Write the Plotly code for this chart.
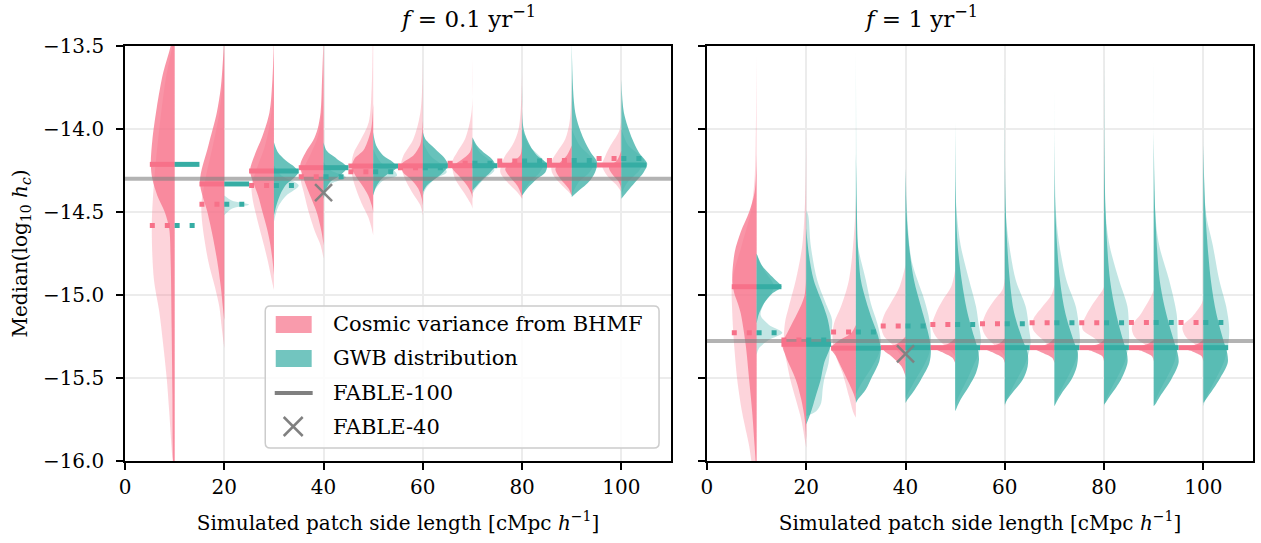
import plotly.graph_objects as go

# ---------------- data ----------------
POSITIONS = [10, 20, 30, 40, 50, 60, 70, 80, 90, 100]
XTICKS = [0, 20, 40, 60, 80, 100]
YTICKS = [-16.0, -15.5, -15.0, -14.5, -14.0, -13.5]
PANEL_TITLES = ["<i>f</i> = 0.1 yr<sup>−1</sup>", "<i>f</i> = 1 yr<sup>−1</sup>"]
LEGEND_LABELS = ["Cosmic variance from BHMF", "GWB distribution", "FABLE-100", "FABLE-40"]

# medians (solid = main distribution, dotted = alternative distribution)
MED_MAIN_F01 = [-14.213, -14.331, -14.253, -14.233, -14.223, -14.222, -14.221, -14.218, -14.218, -14.217]
MED_ALT_F01 = [-14.582, -14.454, -14.341, -14.287, -14.257, -14.233, -14.207, -14.193, -14.190, -14.177]
MED_MAIN_F1 = [-14.950, -15.297, -15.320, -15.317, -15.317, -15.317, -15.317, -15.317, -15.317, -15.317]
MED_ALT_F1 = [-15.227, -15.271, -15.223, -15.187, -15.177, -15.173, -15.167, -15.167, -15.165, -15.165]

FABLE100 = [-14.300, -15.277]
FABLE40_X = 40
FABLE40 = [-14.384, -15.355]

# half-violin outlines: (log10 hc, half width in x units)
BHMF_MAIN_F01 = {
    10: [(-13.35, 0), (-13.5, 0.8), (-13.66, 2.3), (-13.87, 3.6), (-14.07, 4.5), (-14.21, 4.8), (-14.3, 4.5), (-14.4, 3.5), (-14.5, 2.0), (-14.6, 1.1), (-14.8, 0.8), (-15.2, 0.6), (-15.6, 0.45), (-16.0, 0.3), (-16.1, 0)],
    20: [(-13.45, 0), (-13.6, 0.3), (-13.75, 0.7), (-13.9, 1.5), (-14.1, 3.2), (-14.32, 4.9), (-14.5, 3.4), (-14.65, 2.3), (-14.8, 1.4), (-14.95, 0.7), (-15.07, 0.3), (-15.15, 0)],
    30: [(-13.45, 0), (-13.7, 0.3), (-13.9, 0.9), (-14.05, 2.4), (-14.15, 3.8), (-14.25, 4.8), (-14.32, 4.2), (-14.4, 3.2), (-14.5, 2.3), (-14.6, 1.4), (-14.7, 0.7), (-14.8, 0.25), (-14.88, 0)],
    40: [(-13.45, 0), (-13.7, 0.3), (-13.9, 0.6), (-14.0, 1.2), (-14.07, 2.1), (-14.14, 3.6), (-14.22, 4.7), (-14.3, 4.0), (-14.38, 3.0), (-14.5, 1.4), (-14.62, 0.4), (-14.7, 0)],
    50: [(-13.85, 0), (-14.0, 0.4), (-14.08, 1.2), (-14.13, 2.0), (-14.18, 3.8), (-14.23, 4.3), (-14.28, 3.6), (-14.34, 2.2), (-14.4, 1.0), (-14.46, 0.3), (-14.5, 0)],
    60: [(-13.95, 0), (-14.06, 0.3), (-14.1, 0.6), (-14.16, 1.9), (-14.21, 4.2), (-14.26, 4.0), (-14.3, 2.5), (-14.36, 0.9), (-14.42, 0.2), (-14.46, 0)],
    70: [(-14.05, 0), (-14.14, 0.5), (-14.19, 2.4), (-14.23, 4.1), (-14.28, 2.8), (-14.34, 1.1), (-14.39, 0.2), (-14.42, 0)],
    80: [(-14.1, 0), (-14.16, 0.4), (-14.2, 2.0), (-14.24, 3.4), (-14.28, 2.7), (-14.34, 1.0), (-14.39, 0.2), (-14.42, 0)],
    90: [(-14.1, 0), (-14.16, 1.0), (-14.2, 2.3), (-14.24, 3.3), (-14.3, 2.3), (-14.36, 0.6), (-14.4, 0)],
    100: [(-14.13, 0), (-14.19, 0.9), (-14.23, 2.5), (-14.27, 1.9), (-14.32, 0.5), (-14.36, 0)],
}
BHMF_ALT_F01 = {
    10: [(-13.35, 0), (-13.5, 0.5), (-13.7, 1.8), (-14.0, 3.1), (-14.3, 4.1), (-14.58, 4.6), (-14.9, 4.2), (-15.1, 3.1), (-15.3, 2.3), (-15.5, 1.6), (-15.7, 1.1), (-16.0, 0.4), (-16.1, 0)],
    20: [(-13.5, 0), (-13.7, 0.3), (-13.9, 1.0), (-14.1, 2.3), (-14.3, 3.8), (-14.45, 4.6), (-14.55, 4.5), (-14.8, 3.2), (-14.95, 1.9), (-15.07, 1.0), (-15.2, 0.5), (-15.32, 0)],
    30: [(-13.55, 0), (-13.9, 0.5), (-14.1, 1.8), (-14.25, 3.6), (-14.34, 4.5), (-14.42, 4.3), (-14.54, 3.4), (-14.7, 2.0), (-14.8, 1.2), (-14.9, 0.5), (-14.97, 0)],
    40: [(-13.55, 0), (-13.9, 0.4), (-14.05, 1.2), (-14.15, 2.6), (-14.25, 4.2), (-14.3, 4.6), (-14.38, 4.0), (-14.5, 3.0), (-14.62, 1.7), (-14.7, 0.6), (-14.78, 0)],
    50: [(-13.4, 0), (-13.5, 0.1), (-13.75, 0.3), (-13.96, 0.9), (-14.07, 2.6), (-14.15, 4.0), (-14.25, 4.4), (-14.35, 3.6), (-14.45, 2.3), (-14.53, 1.0), (-14.6, 0.3), (-14.64, 0)],
    60: [(-13.58, 0), (-13.9, 0.5), (-14.06, 1.9), (-14.16, 3.9), (-14.22, 4.4), (-14.3, 3.6), (-14.38, 2.2), (-14.46, 0.5), (-14.52, 0)],
    70: [(-13.58, 0), (-13.9, 0.2), (-14.06, 1.5), (-14.14, 3.1), (-14.2, 4.1), (-14.3, 3.5), (-14.38, 1.8), (-14.46, 0.2), (-14.48, 0)],
    80: [(-13.66, 0), (-14.0, 0.7), (-14.1, 2.0), (-14.16, 3.4), (-14.2, 4.0), (-14.26, 4.4), (-14.32, 3.0), (-14.38, 1.0), (-14.42, 0)],
    90: [(-13.66, 0), (-13.95, 0.4), (-14.06, 1.3), (-14.14, 3.0), (-14.19, 4.0), (-14.26, 4.0), (-14.32, 2.6), (-14.38, 0.6), (-14.4, 0)],
    100: [(-13.8, 0), (-14.0, 0.3), (-14.1, 2.2), (-14.16, 3.2), (-14.22, 3.9), (-14.28, 2.9), (-14.34, 0.9), (-14.38, 0)],
}
GWB_MAIN_F01 = {
    10: [],
    20: [],
    30: [(-14.08, 0), (-14.14, 0.8), (-14.19, 2.4), (-14.23, 4.2), (-14.26, 4.9), (-14.29, 4.2), (-14.33, 2.6), (-14.38, 1.5), (-14.45, 0.6), (-14.52, 0)],
    40: [(-14.08, 0), (-14.13, 0.6), (-14.18, 2.7), (-14.23, 4.7), (-14.28, 3.3), (-14.32, 1.3), (-14.38, 0.3), (-14.42, 0)],
    50: [(-14.02, 0), (-14.1, 0.6), (-14.16, 2.0), (-14.2, 4.0), (-14.23, 4.8), (-14.27, 3.0), (-14.31, 1.4), (-14.36, 0.4), (-14.4, 0)],
    60: [(-14.02, 0), (-14.06, 0.5), (-14.12, 2.5), (-14.18, 4.5), (-14.22, 5.1), (-14.26, 4.1), (-14.3, 2.5), (-14.34, 0.8), (-14.38, 0)],
    70: [(-14.05, 0), (-14.1, 0.9), (-14.14, 2.2), (-14.18, 3.9), (-14.22, 4.6), (-14.26, 3.6), (-14.3, 2.2), (-14.34, 0.9), (-14.37, 0)],
    80: [(-13.74, 0), (-14.0, 0.3), (-14.1, 1.6), (-14.16, 3.0), (-14.21, 5.0), (-14.26, 4.7), (-14.3, 3.0), (-14.36, 1.0), (-14.4, 0)],
    90: [(-13.45, 0), (-13.9, 0.7), (-14.06, 2.4), (-14.14, 3.8), (-14.2, 5.1), (-14.26, 4.7), (-14.32, 3.4), (-14.38, 1.1), (-14.41, 0)],
    100: [(-13.7, 0), (-13.9, 0.5), (-14.06, 2.2), (-14.14, 3.5), (-14.21, 5.2), (-14.26, 4.5), (-14.32, 2.8), (-14.38, 1.1), (-14.42, 0)],
}
GWB_ALT_F01 = {
    10: [],
    20: [(-14.40, 0), (-14.43, 1.5), (-14.455, 5.0), (-14.48, 1.5), (-14.52, 0)],
    30: [(-14.22, 0), (-14.28, 1.5), (-14.34, 5.0), (-14.40, 2.5), (-14.46, 1.0), (-14.52, 0.3), (-14.56, 0)],
    40: [(-14.2, 0), (-14.25, 1.5), (-14.29, 4.5), (-14.33, 1.5), (-14.38, 0.5), (-14.42, 0)],
    50: [(-14.12, 0), (-14.2, 1.5), (-14.25, 4.2), (-14.28, 4.8), (-14.31, 2.0), (-14.36, 0.5), (-14.4, 0)],
    60: [(-14.08, 0), (-14.16, 1.5), (-14.22, 4.0), (-14.26, 4.8), (-14.3, 2.5), (-14.36, 0.6), (-14.4, 0)],
    70: [(-14.06, 0), (-14.14, 1.5), (-14.2, 3.8), (-14.25, 4.4), (-14.3, 2.4), (-14.36, 0.6), (-14.39, 0)],
    80: [(-14.0, 0), (-14.1, 1.4), (-14.16, 3.4), (-14.2, 4.5), (-14.26, 3.6), (-14.32, 1.6), (-14.38, 0.3), (-14.4, 0)],
    90: [(-14.0, 0), (-14.1, 1.6), (-14.16, 3.6), (-14.2, 4.6), (-14.26, 3.6), (-14.32, 1.4), (-14.38, 0.3), (-14.4, 0)],
    100: [(-14.0, 0), (-14.1, 1.4), (-14.15, 3.4), (-14.19, 4.6), (-14.25, 3.6), (-14.32, 1.3), (-14.37, 0.3), (-14.4, 0)],
}
BHMF_MAIN_F1 = {
    10: [(-14.15, 0), (-14.38, 0.4), (-14.5, 1.5), (-14.62, 3.2), (-14.74, 4.4), (-14.91, 4.9), (-14.99, 4.5), (-15.05, 3.8), (-15.11, 3.2), (-15.3, 2.2), (-15.51, 1.5), (-15.7, 0.9), (-15.91, 0.4), (-16.1, 0)],
    20: [(-14.9, 0), (-15.01, 0.4), (-15.11, 1.8), (-15.21, 3.5), (-15.3, 4.8), (-15.37, 4.1), (-15.51, 2.1), (-15.63, 1.0), (-15.75, 0.3), (-15.87, 0)],
    30: [(-15.18, 0), (-15.23, 1.0), (-15.28, 3.7), (-15.32, 5.0), (-15.37, 4.0), (-15.45, 2.7), (-15.53, 1.4), (-15.6, 0.4), (-15.64, 0)],
    40: [(-15.25, 0), (-15.28, 1.0), (-15.31, 2.8), (-15.33, 4.4), (-15.37, 2.8), (-15.43, 0.8), (-15.49, 0)],
    50: [(-15.26, 0), (-15.29, 1.2), (-15.31, 3.0), (-15.32, 4.3), (-15.35, 2.3), (-15.38, 0.5), (-15.41, 0)],
    60: [(-15.26, 0), (-15.29, 1.0), (-15.31, 3.0), (-15.32, 4.3), (-15.35, 2.2), (-15.38, 0.4), (-15.41, 0)],
    70: [(-15.26, 0), (-15.29, 1.1), (-15.31, 3.0), (-15.32, 4.3), (-15.35, 2.3), (-15.38, 0.4), (-15.41, 0)],
    80: [(-15.27, 0), (-15.29, 0.8), (-15.31, 3.0), (-15.32, 4.3), (-15.34, 2.3), (-15.37, 0.3), (-15.4, 0)],
    90: [(-15.27, 0), (-15.29, 0.9), (-15.31, 3.0), (-15.32, 4.2), (-15.34, 2.2), (-15.37, 0.3), (-15.4, 0)],
    100: [(-15.27, 0), (-15.29, 0.9), (-15.31, 2.9), (-15.32, 4.2), (-15.34, 2.2), (-15.37, 0.3), (-15.4, 0)],
}
BHMF_ALT_F1 = {
    10: [(-13.56, 0), (-14.0, 0.15), (-14.3, 0.4), (-14.5, 1.2), (-14.7, 3.0), (-14.91, 4.9), (-15.11, 4.9), (-15.31, 4.5), (-15.51, 3.9), (-15.71, 2.9), (-15.91, 1.5), (-16.1, 0.6), (-16.2, 0)],
    20: [(-14.0, 0), (-14.4, 0.2), (-14.7, 0.8), (-14.91, 2.1), (-15.07, 3.5), (-15.17, 4.3), (-15.31, 4.5), (-15.41, 3.9), (-15.51, 3.2), (-15.63, 2.1), (-15.75, 1.0), (-15.87, 0.3), (-15.92, 0)],
    30: [(-14.4, 0), (-14.6, 0.3), (-14.91, 1.4), (-15.07, 3.0), (-15.17, 4.4), (-15.27, 4.7), (-15.37, 4.0), (-15.47, 2.7), (-15.61, 1.4), (-15.71, 0.5), (-15.74, 0)],
    40: [(-14.82, 0), (-14.95, 1.2), (-15.05, 3.0), (-15.12, 4.3), (-15.19, 4.9), (-15.25, 4.3), (-15.3, 2.6), (-15.36, 1.0), (-15.4, 0)],
    50: [(-14.85, 0), (-14.95, 0.8), (-15.03, 2.5), (-15.11, 3.9), (-15.19, 4.7), (-15.25, 3.9), (-15.31, 1.9), (-15.35, 0.5), (-15.37, 0)],
    60: [(-14.9, 0), (-14.97, 0.5), (-15.03, 2.1), (-15.11, 3.8), (-15.19, 4.6), (-15.25, 3.8), (-15.31, 1.8), (-15.35, 0.5), (-15.37, 0)],
    70: [(-14.94, 0), (-15.0, 0.6), (-15.07, 2.4), (-15.15, 4.3), (-15.21, 4.3), (-15.27, 2.4), (-15.32, 0.7), (-15.35, 0)],
    80: [(-14.95, 0), (-14.97, 0.3), (-15.07, 2.6), (-15.17, 4.3), (-15.21, 4.3), (-15.27, 1.6), (-15.31, 0.6), (-15.33, 0)],
    90: [(-14.97, 0), (-15.0, 0.4), (-15.11, 2.5), (-15.19, 4.4), (-15.25, 3.9), (-15.31, 1.2), (-15.34, 0)],
    100: [(-15.02, 0), (-15.05, 0.3), (-15.13, 2.2), (-15.19, 4.2), (-15.25, 3.6), (-15.31, 1.1), (-15.34, 0)],
}
GWB_MAIN_F1 = {
    10: [(-14.75, 0), (-14.82, 1.0), (-14.87, 2.5), (-14.91, 3.8), (-14.95, 5.0), (-14.99, 3.2), (-15.05, 1.5), (-15.11, 0.5), (-15.17, 0)],
    20: [(-14.6, 0), (-14.75, 0.5), (-14.91, 1.5), (-15.07, 3.5), (-15.17, 4.5), (-15.3, 4.9), (-15.41, 3.6), (-15.51, 2.9), (-15.61, 1.9), (-15.71, 0.9), (-15.78, 0)],
    30: [(-14.15, 0), (-14.5, 0.2), (-14.7, 0.4), (-14.91, 1.0), (-15.03, 2.0), (-15.15, 3.3), (-15.23, 4.3), (-15.32, 5.0), (-15.4, 4.7), (-15.49, 3.3), (-15.57, 2.0), (-15.63, 0.4), (-15.65, 0)],
    40: [(-14.24, 0), (-14.5, 0.2), (-14.7, 0.7), (-14.91, 1.7), (-15.07, 3.1), (-15.21, 4.4), (-15.32, 5.1), (-15.41, 4.8), (-15.51, 3.1), (-15.59, 1.4), (-15.63, 0.4), (-15.65, 0)],
    50: [(-13.96, 0), (-14.5, 0.2), (-14.7, 0.5), (-14.91, 1.3), (-15.11, 2.5), (-15.25, 3.8), (-15.32, 4.5), (-15.39, 4.8), (-15.47, 4.2), (-15.55, 2.8), (-15.63, 1.1), (-15.68, 0.3), (-15.7, 0)],
    60: [(-13.66, 0), (-14.5, 0.2), (-14.91, 1.0), (-15.11, 1.9), (-15.27, 3.6), (-15.35, 4.6), (-15.43, 4.6), (-15.51, 3.6), (-15.59, 1.5), (-15.63, 0.5), (-15.66, 0)],
    70: [(-13.76, 0), (-14.5, 0.2), (-14.91, 1.1), (-15.11, 2.2), (-15.27, 3.8), (-15.35, 4.7), (-15.43, 4.5), (-15.51, 3.4), (-15.59, 1.5), (-15.64, 0.5), (-15.67, 0)],
    80: [(-13.54, 0), (-14.5, 0.3), (-14.91, 1.2), (-15.11, 2.4), (-15.27, 3.8), (-15.35, 4.6), (-15.41, 4.7), (-15.51, 3.4), (-15.6, 1.4), (-15.64, 0.5), (-15.66, 0)],
    90: [(-14.0, 0), (-14.5, 0.3), (-14.91, 1.2), (-15.11, 2.5), (-15.27, 4.0), (-15.35, 4.8), (-15.41, 5.0), (-15.51, 3.5), (-15.6, 1.5), (-15.65, 0.5), (-15.67, 0)],
    100: [(-14.1, 0), (-14.5, 0.4), (-14.91, 1.5), (-15.11, 2.6), (-15.27, 4.0), (-15.35, 4.8), (-15.41, 4.9), (-15.51, 3.2), (-15.6, 1.2), (-15.63, 0.5), (-15.65, 0)],
}
GWB_ALT_F1 = {
    10: [(-14.75, 0), (-14.85, 1.5), (-14.95, 3.5), (-15.05, 1.5), (-15.12, 0.8), (-15.18, 2.5), (-15.227, 5.2), (-15.27, 2.5), (-15.32, 0.5), (-15.36, 0)],
    20: [(-14.49, 0), (-14.52, 0.4), (-14.7, 0.9), (-14.91, 2.2), (-15.07, 4.2), (-15.15, 5.2), (-15.27, 4.9), (-15.41, 4.5), (-15.51, 3.6), (-15.57, 3.3), (-15.65, 3.0), (-15.7, 2.0), (-15.73, 0)],
    30: [(-13.52, 0), (-14.5, 0.2), (-14.7, 0.4), (-14.91, 2.0), (-15.05, 3.0), (-15.17, 4.3), (-15.27, 5.0), (-15.35, 4.7), (-15.43, 3.3), (-15.5, 1.8), (-15.56, 0.6), (-15.6, 0)],
    40: [(-14.24, 0), (-14.6, 0.5), (-14.79, 1.2), (-14.91, 2.4), (-15.03, 3.8), (-15.15, 4.8), (-15.27, 5.1), (-15.35, 4.8), (-15.43, 3.6), (-15.5, 2.2), (-15.57, 0.9), (-15.62, 0)],
    50: [(-14.3, 0), (-14.5, 0.3), (-14.7, 1.1), (-14.91, 2.8), (-15.07, 4.2), (-15.17, 4.7), (-15.27, 5.2), (-15.35, 4.8), (-15.43, 3.6), (-15.51, 2.4), (-15.58, 1.2), (-15.64, 0.3), (-15.67, 0)],
    60: [(-13.66, 0), (-14.5, 0.2), (-14.7, 0.9), (-14.91, 2.2), (-15.07, 4.2), (-15.21, 4.9), (-15.29, 5.2), (-15.4, 4.3), (-15.5, 2.6), (-15.58, 1.2), (-15.64, 0.3), (-15.67, 0)],
    70: [(-13.76, 0), (-14.5, 0.3), (-14.7, 1.0), (-14.91, 2.4), (-15.07, 4.3), (-15.21, 5.0), (-15.29, 5.1), (-15.4, 4.2), (-15.5, 2.6), (-15.58, 1.2), (-15.64, 0.3), (-15.67, 0)],
    80: [(-13.54, 0), (-14.5, 0.3), (-14.7, 1.1), (-14.91, 3.0), (-15.07, 4.7), (-15.21, 5.0), (-15.29, 5.0), (-15.4, 4.2), (-15.5, 2.6), (-15.58, 1.2), (-15.64, 0.3), (-15.67, 0)],
    90: [(-13.58, 0), (-14.5, 0.3), (-14.7, 1.1), (-14.91, 3.1), (-15.11, 4.6), (-15.23, 4.8), (-15.3, 4.8), (-15.4, 4.2), (-15.5, 2.6), (-15.58, 1.2), (-15.64, 0.3), (-15.67, 0)],
    100: [(-13.9, 0), (-14.5, 0.5), (-14.7, 1.9), (-14.91, 3.2), (-15.07, 4.6), (-15.2, 5.2), (-15.3, 5.0), (-15.4, 4.2), (-15.5, 2.6), (-15.58, 1.2), (-15.64, 0.3), (-15.67, 0)],
}

# ---------------- style ----------------
PINK = "247,113,137"
TEAL = "54,173,164"
GRAY = "128,128,128"
FONT = "DejaVu Serif"
MAIN_ALPHA = 0.75
ALT_ALPHA = 0.3
HALF = 5  # half-width of median segments (x units)

fig = go.Figure()

PANELS = [
    dict(xa="x", ya="y",
         sets=[(BHMF_ALT_F01, PINK, ALT_ALPHA, -1), (BHMF_MAIN_F01, PINK, MAIN_ALPHA, -1),
               (GWB_ALT_F01, TEAL, ALT_ALPHA, 1), (GWB_MAIN_F01, TEAL, MAIN_ALPHA, 1)],
         med_main=MED_MAIN_F01, med_alt=MED_ALT_F01),
    dict(xa="x2", ya="y2",
         sets=[(BHMF_ALT_F1, PINK, ALT_ALPHA, -1), (BHMF_MAIN_F1, PINK, MAIN_ALPHA, -1),
               (GWB_ALT_F1, TEAL, ALT_ALPHA, 1), (GWB_MAIN_F1, TEAL, MAIN_ALPHA, 1)],
         med_main=MED_MAIN_F1, med_alt=MED_ALT_F1),
]


def seg_trace(meds, side, color, dash, xa, ya):
    xs, ys = [], []
    for p, m in zip(POSITIONS, meds):
        if side < 0:
            xs += [p - HALF, p, None]
        else:
            xs += [p, p + HALF, None]
        ys += [m, m, None]
    return go.Scatter(x=xs, y=ys, mode="lines", xaxis=xa, yaxis=ya, hoverinfo="skip",
                      line=dict(color=f"rgb({color})", width=5, dash=dash), showlegend=False)


for i, pnl in enumerate(PANELS):
    xa, ya = pnl["xa"], pnl["ya"]
    for shapes, col, alpha, side in pnl["sets"]:
        for p in POSITIONS:
            knots = shapes[p]
            if not knots:
                continue
            xs = [p + side * w for v, w in knots]
            ys = [v for v, w in knots]
            fig.add_trace(go.Scatter(
                x=xs, y=ys, mode="lines", fill="toself", xaxis=xa, yaxis=ya,
                fillcolor=f"rgba({col},{alpha})", line=dict(width=0, shape="spline", smoothing=0.9),
                hoverinfo="skip", showlegend=False))
    # FABLE-100 reference line
    fig.add_trace(go.Scatter(x=[0, 110], y=[FABLE100[i], FABLE100[i]], mode="lines",
                             xaxis=xa, yaxis=ya, line=dict(color=f"rgba({GRAY},0.6)", width=4),
                             hoverinfo="skip", showlegend=False))
    # medians
    fig.add_trace(seg_trace(pnl["med_alt"], -1, PINK, "5px,10px", xa, ya))
    fig.add_trace(seg_trace(pnl["med_alt"], 1, TEAL, "5px,10px", xa, ya))
    fig.add_trace(seg_trace(pnl["med_main"], -1, PINK, "solid", xa, ya))
    fig.add_trace(seg_trace(pnl["med_main"], 1, TEAL, "solid", xa, ya))
    # FABLE-40 marker
    fig.add_trace(go.Scatter(x=[FABLE40_X], y=[FABLE40[i]], mode="markers", xaxis=xa, yaxis=ya,
                             marker=dict(symbol="x-thin", size=17,
                                         line=dict(color=f"rgba({GRAY},0.95)", width=2.5)),
                             hoverinfo="skip", showlegend=False))

axis_common = dict(range=[0, 110], tickvals=XTICKS, ticks="outside", ticklen=7, tickwidth=1.5,
                   tickcolor="black", showline=True, linecolor="black", linewidth=1.6, mirror=True,
                   showgrid=True, gridcolor="#ececec", gridwidth=1.5, zeroline=False,
                   tickfont=dict(family=FONT, size=20, color="black"))
yaxis_common = dict(range=[-16, -13.5], tickvals=YTICKS, tickformat=".1f", ticks="outside", ticklen=7,
                    tickwidth=1.5, tickcolor="black", showline=True, linecolor="black", linewidth=1.6,
                    mirror=True, showgrid=True, gridcolor="#ececec", gridwidth=1.5, zeroline=False,
                    tickfont=dict(family=FONT, size=20, color="black"))

XTITLE = "Simulated patch side length [cMpc <i>h</i><sup>−1</sup>]"
fig.update_layout(
    width=1261, height=543, margin=dict(l=125, r=6, t=46, b=82),
    plot_bgcolor="white", paper_bgcolor="white", showlegend=False,
    xaxis=dict(domain=[0, 547 / 1130], anchor="y", **axis_common,
               title=dict(text=XTITLE, font=dict(family=FONT, size=20, color="black"), standoff=18)),
    xaxis2=dict(domain=[583 / 1130, 1], anchor="y2", **axis_common,
                title=dict(text=XTITLE, font=dict(family=FONT, size=20, color="black"), standoff=18)),
    yaxis=dict(anchor="x", **yaxis_common, ticklabelstandoff=8,
               title=dict(text="Median(log<sub>10</sub> <i>h<sub>c</sub></i>)",
                          font=dict(family=FONT, size=20, color="black"), standoff=10)),
    yaxis2=dict(anchor="x2", **yaxis_common, showticklabels=False),
)

# subplot titles
for dom, txt in zip([(0, 547 / 1130), (583 / 1130, 1)], PANEL_TITLES):
    fig.add_annotation(x=(dom[0] + dom[1]) / 2, y=1 + 29 / 415, xref="paper", yref="paper",
                       text=txt, showarrow=False, yanchor="middle",
                       font=dict(family=FONT, size=23, color="black"))

# ---------------- manual legend (left panel) ----------------
W, H = 547.0, 415.0
def fx(px):
    return (px - 125) / W
def fy(py):
    return (461 - py) / H

x0, x1, y0, y1 = fx(265.5), fx(660), fy(448), fy(306)
rx, ry = 5 / W, 5 / H
path = (f"M{x0+rx},{y0} L{x1-rx},{y0} Q{x1},{y0} {x1},{y0+ry} L{x1},{y1-ry} Q{x1},{y1} {x1-rx},{y1} "
        f"L{x0+rx},{y1} Q{x0},{y1} {x0},{y1-ry} L{x0},{y0+ry} Q{x0},{y0} {x0+rx},{y0} Z")
fig.add_shape(type="path", path=path, xref="x domain", yref="y domain",
              fillcolor="rgba(255,255,255,0.85)", line=dict(color="#cccccc", width=1.5), layer="above")
fig.add_shape(type="rect", xref="x domain", yref="y domain", x0=fx(276), x1=fx(312), y0=fy(333), y1=fy(316),
              fillcolor=f"rgba({PINK},0.7)", line=dict(width=0), layer="above")
fig.add_shape(type="rect", xref="x domain", yref="y domain", x0=fx(276), x1=fx(312), y0=fy(367), y1=fy(350),
              fillcolor=f"rgba({TEAL},0.7)", line=dict(width=0), layer="above")
fig.add_shape(type="line", xref="x domain", yref="y domain", x0=fx(275), x1=fx(313), y0=fy(393), y1=fy(393),
              line=dict(color=f"rgb({GRAY})", width=4), layer="above")
for a, b in [((284, 417), (303, 436)), ((284, 436), (303, 417))]:
    fig.add_shape(type="line", xref="x domain", yref="y domain", x0=fx(a[0]), y0=fy(a[1]),
                  x1=fx(b[0]), y1=fy(b[1]), line=dict(color=f"rgb({GRAY})", width=2.5), layer="above")
for lab, py in zip(LEGEND_LABELS, [324, 358, 393, 427]):
    fig.add_annotation(x=fx(331), y=fy(py), xref="x domain", yref="y domain", text=lab,
                       showarrow=False, xanchor="left", yanchor="middle",
                       font=dict(family=FONT, size=21, color="black"))

fig.write_html("out.html")
